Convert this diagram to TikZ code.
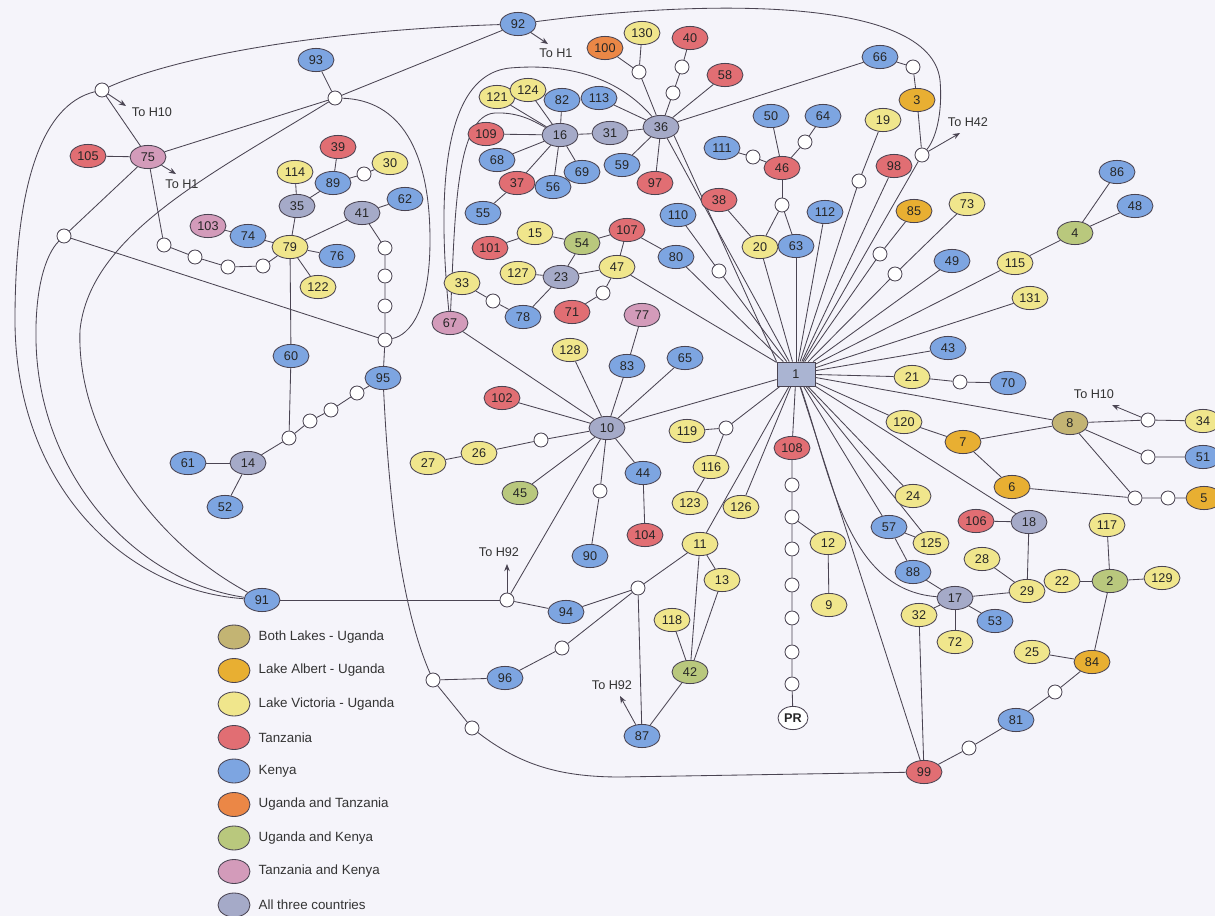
\documentclass[tikz,border=0pt]{standalone}
\usepackage{fontspec}
\setmainfont{Liberation Sans}
\usepackage{tikz}
\usetikzlibrary{
  arrows.meta,
  shapes.geometric,
  positioning,
  backgrounds
}
\definecolor{hnLakes}{HTML}{C3B473}
\definecolor{hnAlbert}{HTML}{E8AF32}
\definecolor{hnVict}{HTML}{F0E68C}
\definecolor{hnTanz}{HTML}{E16E73}
\definecolor{hnKenya}{HTML}{7DA5E1}
\definecolor{hnUgTz}{HTML}{EB8746}
\definecolor{hnUgKe}{HTML}{B9C87D}
\definecolor{hnTzKe}{HTML}{D39BBA}
\definecolor{hnAll}{HTML}{A5AAC8}
\definecolor{hnHub}{HTML}{AAB4D2}
\definecolor{hnPage}{HTML}{F5F4FA}
\definecolor{hnLine}{HTML}{4A4452}
\tikzset{
  hap/.style={
    ellipse, draw=hnLine, line width=0.6pt, minimum width=9mm, minimum height=5.8mm,
    inner sep=0pt, font=\fontsize{9}{10}\selectfont, text=black!85
  },
  lakes/.style={hap, fill=hnLakes},
  albert/.style={hap, fill=hnAlbert},
  victoria/.style={hap, fill=hnVict},
  tanzania/.style={hap, fill=hnTanz},
  kenya/.style={hap, fill=hnKenya},
  ugtz/.style={hap, fill=hnUgTz},
  ugke/.style={hap, fill=hnUgKe},
  tzke/.style={hap, fill=hnTzKe},
  allthree/.style={hap, fill=hnAll},
  hubsq/.style={hap, rectangle, fill=hnHub, minimum width=9.5mm, minimum height=6mm},
  mv/.style={circle, draw=hnLine, fill=white, line width=0.6pt, minimum size=3.5mm, inner sep=0pt},
  link/.style={draw=hnLine, line width=0.6pt},
  tohap/.style={link, -{Stealth[length=1.8mm, width=1.4mm]}},
  tag/.style={font=\fontsize{9}{10}\selectfont, text=black!80, inner sep=1pt},
  keytxt/.style={font=\fontsize{9.5}{10}\selectfont, text=black!80, inner sep=0pt}
}

\begin{document}
\begin{tikzpicture}[x=0.25mm, y=-0.25mm]
  \useasboundingbox (0,0) rectangle (1215,916);

  % haplotypes, one loop per origin
  \foreach \n/\x/\y in {93/316/60, 92/518/24, 74/248/236, 89/333/183, 76/337/256, 62/405/199,
      60/291/356, 95/383/378, 61/188/463, 52/225/507, 91/262/600, 82/562/100, 113/599/98,
      68/497/160, 56/553/187, 69/582/172, 59/622/165, 55/483/213, 110/678/215, 80/676/257,
      78/523/317, 83/627/366, 65/685/358, 44/643/473, 90/590/556, 94/566/612, 96/505/678,
      87/642/736, 111/722/148, 50/771/116, 64/823/116, 63/796/246, 112/825/212, 66/880/57,
      49/952/261, 43/948/348, 70/1008/383, 86/1117/172, 48/1135/206, 51/1203/457, 57/889/527,
      88/913/572, 53/995/621, 81/1016/720}
    \node[kenya] (h\n) at (\x,\y) {\n};
  \foreach \n/\x/\y in {105/88/156, 39/338/147, 109/486/134, 37/517/183, 101/490/248,
      107/627/230, 71/572/312, 97/655/183, 40/690/38, 58/725/75, 38/719/200, 46/782/168,
      98/894/166, 102/502/398, 104/645/535, 108/792/448, 106/976/521, 99/924/772}
    \node[tanzania] (h\n) at (\x,\y) {\n};
  \foreach \n/\x/\y in {114/295/172, 30/390/163, 79/290/247, 122/318/287, 121/497/97,
      124/528/90, 130/642/33, 15/535/233, 127/518/273, 47/617/267, 33/462/283, 128/570/350,
      26/479/453, 27/428/463, 119/687/431, 116/711/467, 123/690/503, 126/741/507, 11/700/544,
      13/722/580, 118/672/620, 12/828/543, 9/829/605, 20/760/247, 19/883/120, 73/967/204,
      115/1015/263, 131/1030/298, 21/912/377, 120/904/422, 24/913/496, 125/931/543,
      28/982/559, 29/1027/591, 32/919/615, 72/955/642, 22/1062/581, 117/1107/525,
      129/1162/578, 25/1032/652, 34/1203/421}
    \node[victoria] (h\n) at (\x,\y) {\n};
  \foreach \n/\x/\y in {3/917/100, 85/914/211, 7/963/442, 6/1012/487, 5/1204/498, 84/1092/662}
    \node[albert] (h\n) at (\x,\y) {\n};
  \foreach \n/\x/\y in {54/582/243, 45/520/493, 4/1075/233, 2/1110/581, 42/690/672}
    \node[ugke] (h\n) at (\x,\y) {\n};
  \foreach \n/\x/\y in {75/148/157, 103/208/226, 67/450/323, 77/642/315}
    \node[tzke] (h\n) at (\x,\y) {\n};
  \foreach \n/\x/\y in {35/297/206, 41/362/213, 14/248/463, 16/560/135, 31/610/133,
      36/661/127, 23/561/277, 10/607/428, 18/1029/522, 17/955/598}
    \node[allthree] (h\n) at (\x,\y) {\n};
  \node[ugtz] (h100) at (605,48) {100};
  \node[lakes] (h8) at (1070,423) {8};
  \node[hubsq] (h1) at (796,374) {1};
  \node[hap, fill=white, minimum width=7.5mm, font=\fontsize{9}{10}\selectfont\bfseries] (hPR) at (793,718) {PR};

  % median vectors
  \foreach \m/\x/\y in {A/102/90, B/64/236, 93/335/98, 75a/164/245, 75b/195/257, 75c/228/267,
      75d/263/266, 89/364/174, 41a/385/248, 41b/385/276, 41c/385/306, 95/385/340,
      14a/357/393, 14b/331/410, 14c/310/421, 14d/289/438, 94/507/600, 96/433/680,
      bot/472/728, 96b/562/648, 11/638/588, 26/541/440, 90/600/491, 119/726/428,
      108a/792/485, 108b/792/517, 108c/792/549, 108d/792/585, 108e/792/618, 108f/792/652,
      108g/792/684, 33/493/301, 71/603/293, 100/639/72, 40a/682/67, 40b/673/93,
      110/719/271, 46/782/205, 111/753/157, 64/805/142, 66/913/67, 42/922/155,
      19/859/181, 85/880/254, 73/895/274, 21/960/382, 34/1148/420, 51/1148/457,
      5a/1135/498, 5b/1168/498, 99/969/748, 84/1055/692}
    \node[mv] (m\m) at (\x,\y) {};

  % ends of the arrows to other haplotypes
  \coordinate (tA) at (126,106);
  \coordinate (t75) at (176,174);
  \coordinate (t92) at (548,44);
  \coordinate (t42) at (960,133);
  \coordinate (t94) at (507,564);
  \coordinate (t87) at (620,696);
  \coordinate (t34) at (1112,405);
  \node[tag] (lA) at (152,112) {To H10};
  \node[tag] (l75) at (182,184) {To H1};
  \node[tag] (l92) at (556,53) {To H1};
  \node[tag] (l42) at (968,122) {To H42};
  \node[tag] (l94) at (499,552) {To H92};
  \node[tag] (l87) at (612,685) {To H92};
  \node[tag] (l34) at (1094,394) {To H10};

  % legend
  \foreach \s/\t [count=\i from 0] in {lakes/Both Lakes - Uganda, albert/Lake Albert - Uganda,
      victoria/Lake Victoria - Uganda, tanzania/Tanzania, kenya/Kenya,
      ugtz/Uganda and Tanzania, ugke/Uganda and Kenya, tzke/Tanzania and Kenya,
      allthree/All three countries} {
    \node[\s, minimum width=8mm, minimum height=6mm] (key\i) at (234,637+33.5*\i) {};
    \node[keytxt, right=2mm of key\i] (keyt\i) {\t};
  }

  \begin{scope}[on background layer]
    \fill[hnPage] (0,0) rectangle (1215,916);
    % star round haplotype 1
    \foreach \b in {h10, h11, m119, h126, h108, h99, h125, h24, h57, h18, h120, h8, h21, h43,
        h131, h115, h49, m73, m85, m42, h98, m19, h112, h63, h20, m110, h80, h47, h36}
      \draw[link] (h1) -- (\b);
    \draw[link] (h36.south east) -- (h1.north west);
    \foreach \a/\b in {mA/h75, h105/h75, h75/mB, h75/m93, h93/m93, m93/h92, mB/m95,
        h79/h74, h74/h103, h79/h35, h35/h114, h35/h89, h89/h39, h79/h41, h41/h62, h79/h76,
        h79/h122, h79/h60, h60/m14d, m95/h95, m14d/h14, h14/h61, h14/h52,
        h91/m94, m94/h94, m94/h10, h94/m11, m11/h11, m11/h87, h87/h42, h42/h118, h42/h11,
        h42/h13, h11/h13, h10/h102, h10/h67, h10/h128, h10/h83, h83/h77, h10/h65, h10/h44,
        h44/h104, h10/h45, m119/h119, m119/h116, h116/h123, m108b/h12, h12/h9,
        h32/h99, h17/h72, h17/h53, h17/h32, h17/h88, h88/h57, h57/h125, h17/h29, h29/h28,
        h29/h18, h18/h106, h120/h7, h7/h8, h7/h6, h8/m5a, h84/h25, h84/h2, h2/h117, h2/h22,
        h2/h129, h115/h4, h4/h86, h4/h48, m42/h3, h63/m46, h20/m46, h20/h38, m46/h46,
        h46/h50, h80/h107, h107/h47, h107/h54, h54/h15, h15/h101, h54/h23, h23/h127,
        h23/h47, h23/h78, h36/h66, h36/h31, h31/h16, h36/h113, h36/h59, h36/h97, h36/h58,
        h36/m100, m100/h100, m100/h130, h16/h121, h16/h124, h16/h82, h16/h109, h16/h68,
        h16/h37, h37/h55, h16/h56, h16/h69, m73/h73, m85/h85, m19/h19, m110/h110}
      \draw[link] (\a) -- (\b);
    \draw[link] (h75) -- (m75a) -- (m75b) -- (m75c) -- (m75d) -- (h79);
    \draw[link] (h89) -- (m89) -- (h30);
    \draw[link] (h41) -- (m41a) -- (m41b) -- (m41c) -- (m95);
    \draw[link] (h95) -- (m14a) -- (m14b) -- (m14c) -- (m14d);
    \draw[link] (h10) -- (m26) -- (h26) -- (h27);
    \draw[link] (h10) -- (m90) -- (h90);
    \draw[link] (m11) -- (m96b) -- (h96) -- (m96) -- (mbot);
    \draw[link] (h108) -- (m108a) -- (m108b) -- (m108c) -- (m108d) -- (m108e) -- (m108f) -- (m108g) -- (hPR);
    \draw[link] (h99) -- (m99) -- (h81) -- (m84) -- (h84);
    \draw[link] (h6) -- (m5a) -- (m5b) -- (h5);
    \draw[link] (h8) -- (m51) -- (h51);
    \draw[link] (h8) -- (m34) -- (h34);
    \draw[link] (h21) -- (m21) -- (h70);
    \draw[link] (h3) -- (m66) -- (h66);
    \draw[link] (h46) -- (m111) -- (h111);
    \draw[link] (h46) -- (m64) -- (h64);
    \draw[link] (h78) -- (m33) -- (h33);
    \draw[link] (h47) -- (m71) -- (h71);
    \draw[link] (h36) -- (m40b) -- (m40a) -- (h40);
    % long loops
    \draw[link] (h92) .. controls (330,30) and (180,55) .. (mA);
    \draw[link] (mA) .. controls (40,105) and (15,190) .. (15,320) .. controls (15,480) and (120,590) .. (h91);
    \draw[link] (mB) .. controls (45,255) and (35,290) .. (36,340) .. controls (38,470) and (130,580) .. (h91);
    \draw[link] (m93) .. controls (210,175) and (90,235) .. (80,330) .. controls (76,430) and (150,540) .. (h91);
    \draw[link] (m93) .. controls (400,100) and (430,150) .. (430,240) .. controls (430,310) and (410,335) .. (m95);
    \draw[link] (h67) .. controls (438,200) and (440,75) .. (510,68) .. controls (580,62) and (625,85) .. (h36);
    \draw[link] (h67) .. controls (455,220) and (455,115) .. (495,113) .. controls (520,112) and (535,122) .. (h16);
    \draw[link] (h92) .. controls (700,0) and (930,-5) .. (940,80) .. controls (943,115) and (935,140) .. (m42);
    \draw[link] (h1) .. controls (830,470) and (845,590) .. (h17);
    \draw[link] (h95) .. controls (388,480) and (398,600) .. (m96);
    \draw[link] (mbot) .. controls (520,765) and (560,777) .. (620,777) -- (h99);
    % arrows
    \draw[tohap] (mA) -- (tA);
    \draw[tohap] (h75) -- (t75);
    \draw[tohap] (h92) -- (t92);
    \draw[tohap] (m42) -- (t42);
    \draw[tohap] (m94) -- (t94);
    \draw[tohap] (h87) -- (t87);
    \draw[tohap] (m34) -- (t34);
  \end{scope}
\end{tikzpicture}
\end{document}
